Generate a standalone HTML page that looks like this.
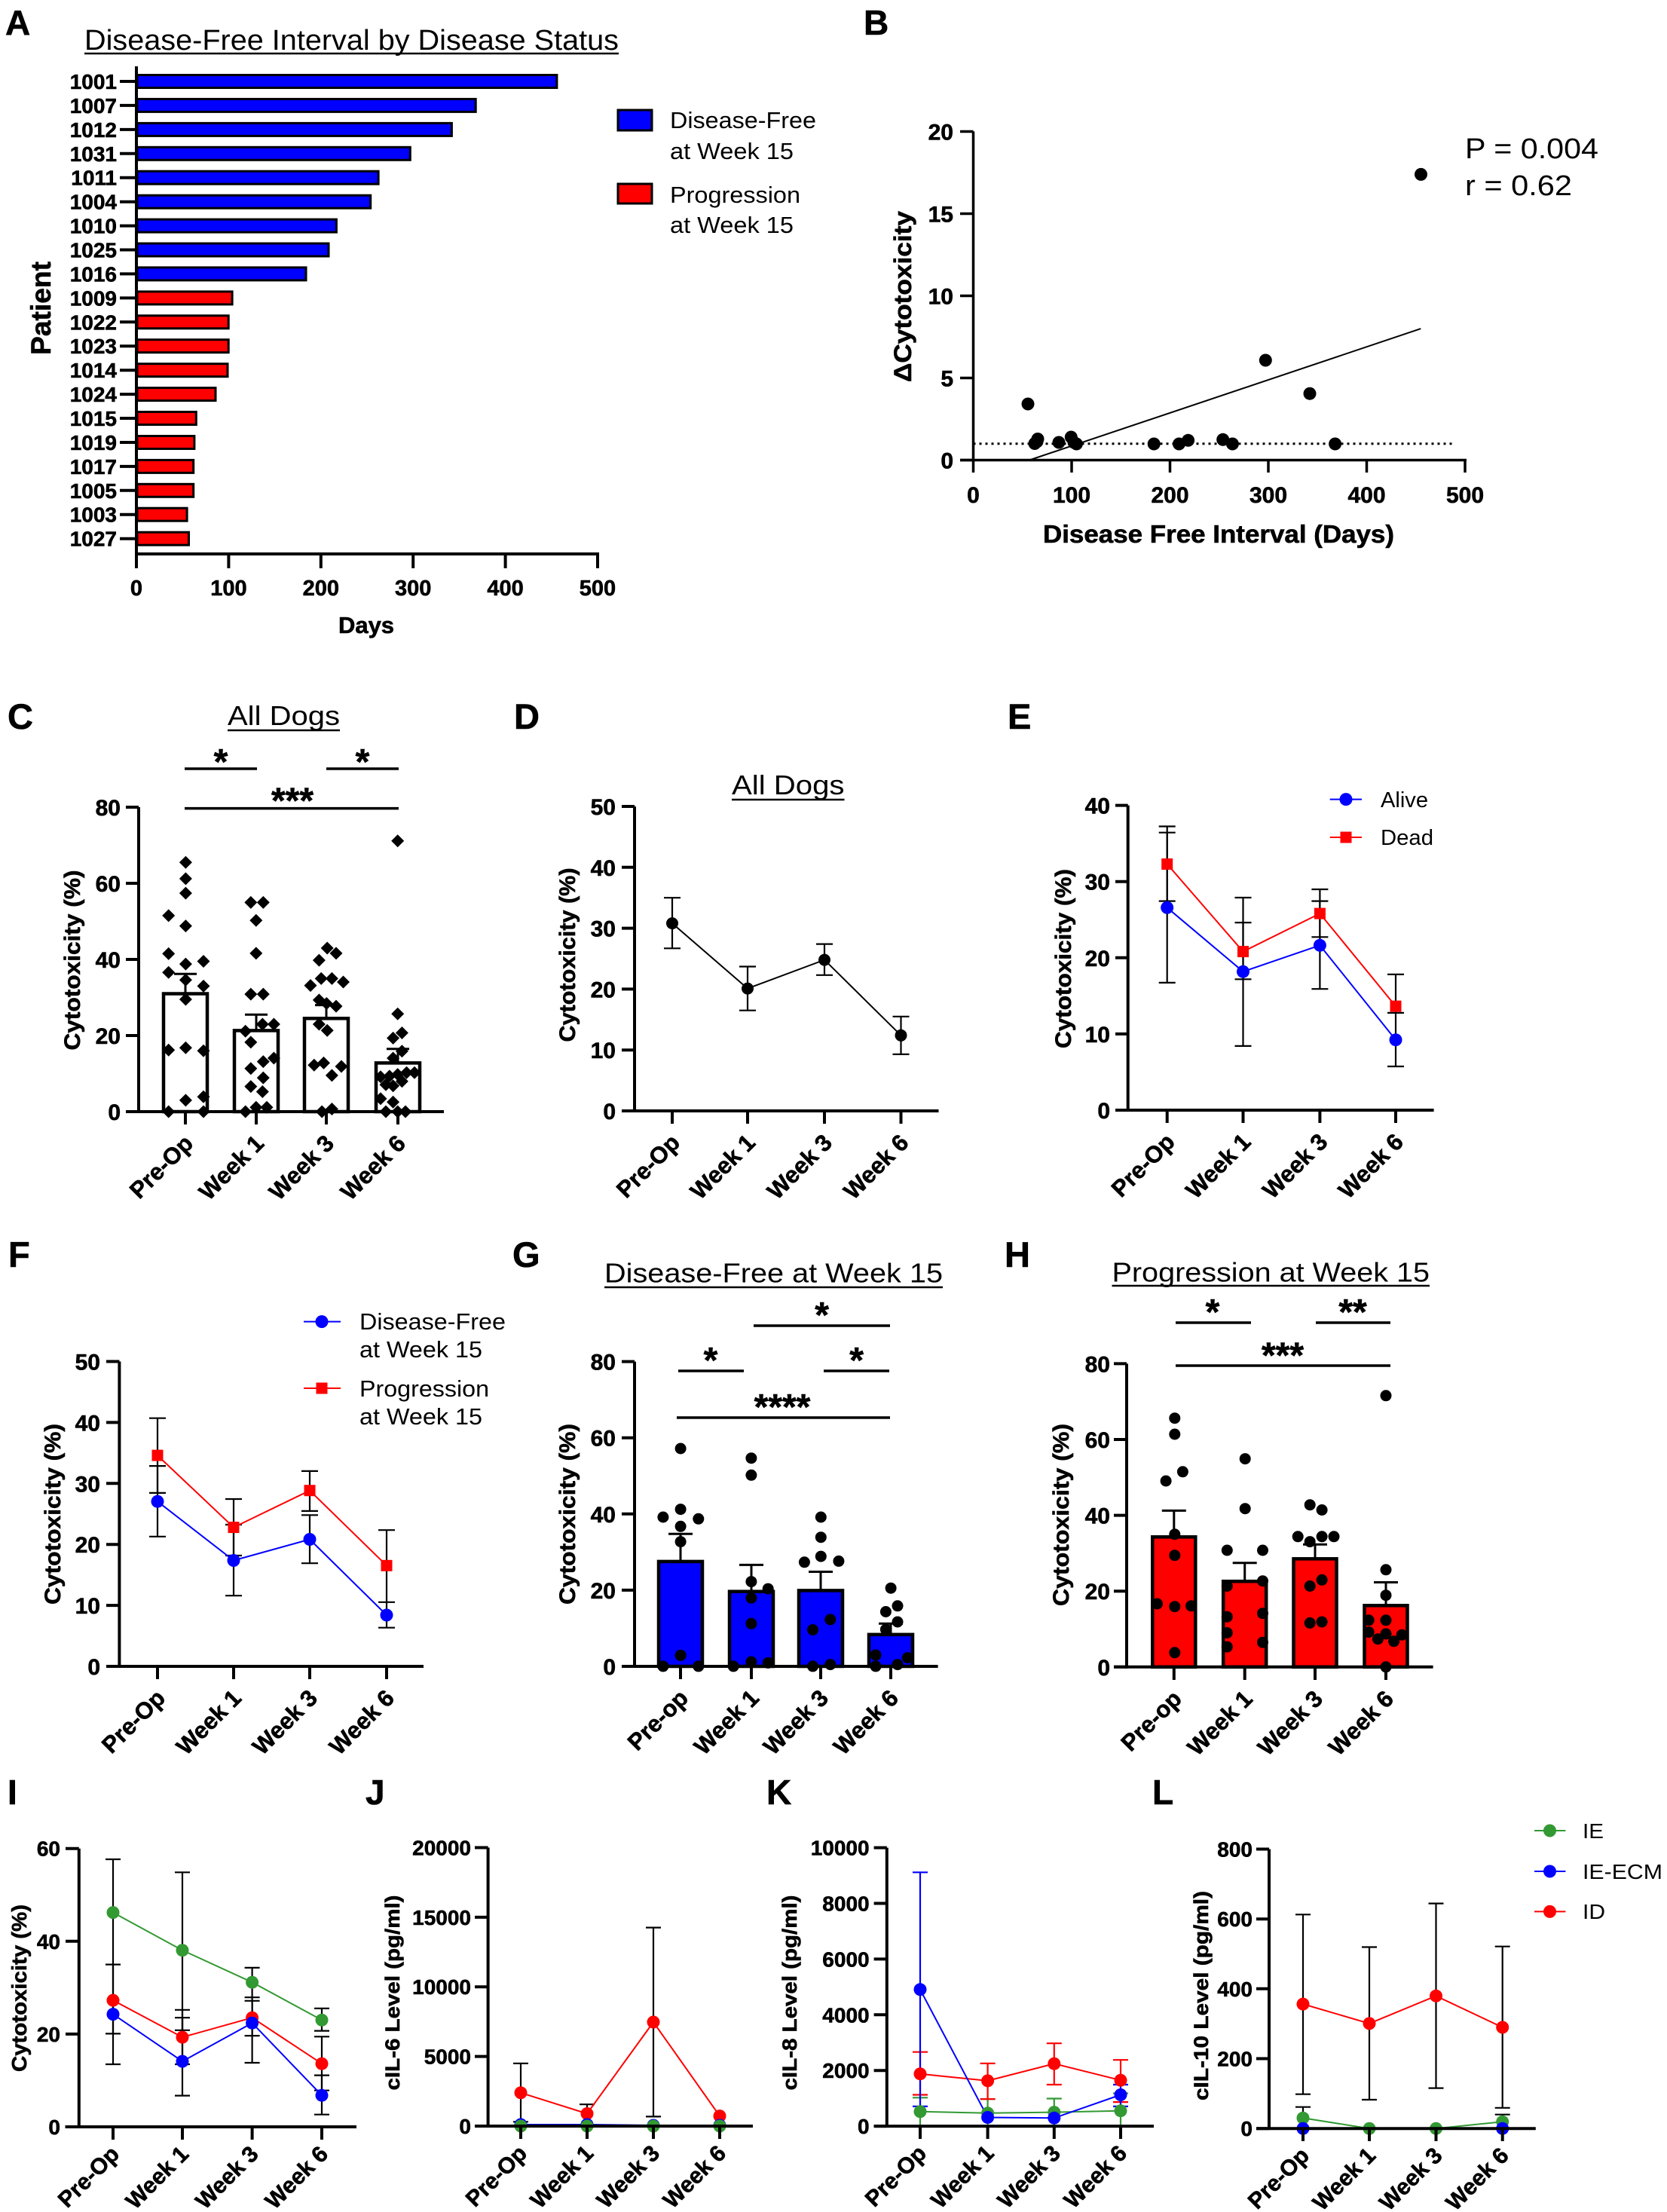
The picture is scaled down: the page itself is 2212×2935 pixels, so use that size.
<!DOCTYPE html>
<html><head><meta charset="utf-8"><style>
html,body{margin:0;padding:0;background:#fff}
svg{display:block}
text{font-family:"Liberation Sans",Arial,sans-serif;fill:#000}
.hv{stroke:#000;stroke-width:0.6}
.lt{font-size:47px;font-weight:bold;stroke:#000;stroke-width:0.6}
.yt{font-size:30px;font-weight:bold;text-anchor:end;stroke:#000;stroke-width:0.6}
.xt{font-size:30px;font-weight:bold;text-anchor:middle;stroke:#000;stroke-width:0.6}
.xr{font-size:31px;font-weight:bold;text-anchor:end;stroke:#000;stroke-width:0.6}
.yb{font-size:28px;font-weight:bold;text-anchor:end;stroke:#000;stroke-width:0.6}
.xb{font-size:30px;font-weight:bold;text-anchor:end;stroke:#000;stroke-width:0.6}
.st{font-size:48px;font-weight:bold;text-anchor:middle;stroke:#000;stroke-width:0.6}
.ax{stroke:#000;stroke-width:4;fill:none}
.eb{stroke:#000;stroke-width:2.2;fill:none}
.ln{stroke-width:2;fill:none}
</style></head><body>
<svg width="2212" height="2935" viewBox="0 0 2212 2935" xmlns="http://www.w3.org/2000/svg">
<defs><path id="dm" d="M0 -8.5L8.5 0L0 8.5L-8.5 0Z"/></defs>
<rect width="2212" height="2935" fill="#fff"/>

<!-- ================= PANEL A ================= -->
<text x="7" y="46" class="hv" style="font-size:46px;font-weight:bold">A</text>
<text x="112" y="66" style="font-size:38px" textLength="709" lengthAdjust="spacingAndGlyphs">Disease-Free Interval by Disease Status</text>
<line x1="112" y1="71" x2="821" y2="71" stroke="#000" stroke-width="2.5"/>
<g stroke="#000" stroke-width="3">
<rect x="182" y="99.5" width="556.9" height="17" fill="#0000ff"/>
<rect x="182" y="131.4" width="449.2" height="17" fill="#0000ff"/>
<rect x="182" y="163.4" width="417.4" height="17" fill="#0000ff"/>
<rect x="182" y="195.3" width="362.3" height="17" fill="#0000ff"/>
<rect x="182" y="227.2" width="320.1" height="17" fill="#0000ff"/>
<rect x="182" y="259.2" width="309.7" height="17" fill="#0000ff"/>
<rect x="182" y="291.1" width="264.4" height="17" fill="#0000ff"/>
<rect x="182" y="323" width="254" height="17" fill="#0000ff"/>
<rect x="182" y="354.9" width="224" height="17" fill="#0000ff"/>
<rect x="182" y="386.9" width="126.1" height="17" fill="#ff0000"/>
<rect x="182" y="418.8" width="121.2" height="17" fill="#ff0000"/>
<rect x="182" y="450.7" width="121.2" height="17" fill="#ff0000"/>
<rect x="182" y="482.7" width="120" height="17" fill="#ff0000"/>
<rect x="182" y="514.6" width="104" height="17" fill="#ff0000"/>
<rect x="182" y="546.5" width="78.3" height="17" fill="#ff0000"/>
<rect x="182" y="578.5" width="75.9" height="17" fill="#ff0000"/>
<rect x="182" y="610.4" width="74.7" height="17" fill="#ff0000"/>
<rect x="182" y="642.3" width="74.7" height="17" fill="#ff0000"/>
<rect x="182" y="674.2" width="66.1" height="17" fill="#ff0000"/>
<rect x="182" y="706.2" width="68.5" height="17" fill="#ff0000"/>
</g>
<g class="ax">
<line x1="181" y1="88" x2="181" y2="737"/>
<line x1="179" y1="735" x2="795" y2="735"/>
<path d="M181 735V754M303.4 735V754M425.8 735V754M548.2 735V754M670.6 735V754M793 735V754"/>
<path d="M159 108H181M159 139.9H181M159 171.9H181M159 203.8H181M159 235.7H181M159 267.7H181M159 299.6H181M159 331.5H181M159 363.4H181M159 395.4H181M159 427.3H181M159 459.2H181M159 491.2H181M159 523.1H181M159 555H181M159 587H181M159 618.9H181M159 650.8H181M159 682.7H181M159 714.7H181"/>
</g>
<g class="hv" style="font-size:28px;font-weight:bold;text-anchor:end">
<text x="155" y="118">1001</text><text x="155" y="149.9">1007</text><text x="155" y="181.9">1012</text><text x="155" y="213.8">1031</text><text x="155" y="245.7">1011</text><text x="155" y="277.7">1004</text><text x="155" y="309.6">1010</text><text x="155" y="341.5">1025</text><text x="155" y="373.4">1016</text><text x="155" y="405.4">1009</text><text x="155" y="437.3">1022</text><text x="155" y="469.2">1023</text><text x="155" y="501.2">1014</text><text x="155" y="533.1">1024</text><text x="155" y="565">1015</text><text x="155" y="597">1019</text><text x="155" y="628.9">1017</text><text x="155" y="660.8">1005</text><text x="155" y="692.7">1003</text><text x="155" y="724.7">1027</text>
</g>
<g class="hv" style="font-size:29px;font-weight:bold;text-anchor:middle">
<text x="181" y="790">0</text><text x="303.4" y="790">100</text><text x="425.8" y="790">200</text><text x="548.2" y="790">300</text><text x="670.6" y="790">400</text><text x="793" y="790">500</text>
</g>
<text x="486" y="840" class="hv" style="font-size:31px;font-weight:bold;text-anchor:middle">Days</text>
<text transform="translate(67,409) rotate(-90)" class="hv" style="font-size:37px;font-weight:bold;text-anchor:middle" textLength="124" lengthAdjust="spacingAndGlyphs">Patient</text>
<rect x="820" y="146" width="45" height="27" fill="#0000ff" stroke="#000" stroke-width="3"/>
<rect x="820" y="244" width="45" height="26" fill="#ff0000" stroke="#000" stroke-width="3"/>
<g style="font-size:31px">
<text x="889" y="170" textLength="194" lengthAdjust="spacingAndGlyphs">Disease-Free</text>
<text x="889" y="211" textLength="164" lengthAdjust="spacingAndGlyphs">at Week 15</text>
<text x="889" y="269" textLength="173" lengthAdjust="spacingAndGlyphs">Progression</text>
<text x="889" y="309" textLength="164" lengthAdjust="spacingAndGlyphs">at Week 15</text>
</g>

<!-- ================= PANEL B ================= -->
<text x="1146" y="46" class="hv" style="font-size:46px;font-weight:bold">B</text>
<g class="ax" style="stroke-width:3.5">
<line x1="1291.5" y1="174.4" x2="1291.5" y2="612.5"/>
<line x1="1274" y1="610.5" x2="1946" y2="610.5"/>
<path d="M1274 610.5H1291.5M1274 501.5H1291.5M1274 392.5H1291.5M1274 283.5H1291.5M1274 174.5H1291.5"/>
<path d="M1291.5 610.5V627M1422 610.5V627M1552.5 610.5V627M1683 610.5V627M1813.5 610.5V627M1944 610.5V627"/>
</g>
<g class="yt"><text x="1265" y="621.5">0</text><text x="1265" y="512.5">5</text><text x="1265" y="403.5">10</text><text x="1265" y="294.5">15</text><text x="1265" y="185.5">20</text></g>
<g class="xt"><text x="1291.5" y="667">0</text><text x="1422" y="667">100</text><text x="1552.5" y="667">200</text><text x="1683" y="667">300</text><text x="1813.5" y="667">400</text><text x="1944" y="667">500</text></g>
<text x="1617" y="720" class="hv" style="font-size:33px;font-weight:bold;text-anchor:middle" textLength="466" lengthAdjust="spacingAndGlyphs">Disease Free Interval (Days)</text>
<text transform="translate(1209,393.5) rotate(-90)" class="hv" style="font-size:32px;font-weight:bold;text-anchor:middle" textLength="227" lengthAdjust="spacingAndGlyphs">ΔCytotoxicity</text>
<path d="M1291.5 588.7H1930" stroke="#000" stroke-width="3" stroke-dasharray="3 5"/>
<path d="M1365.9 610.5L1885.3 436.1" stroke="#000" stroke-width="2"/>
<g fill="#000">
<circle cx="1885.5" cy="231.4" r="8.5"/><circle cx="1679.3" cy="478" r="8.5"/><circle cx="1738" cy="522.2" r="8.5"/><circle cx="1364" cy="536" r="8.5"/>
<circle cx="1373" cy="588.5" r="8.5"/><circle cx="1377" cy="582.5" r="8.5"/><circle cx="1376" cy="586" r="8.5"/><circle cx="1405" cy="587" r="8.5"/>
<circle cx="1421.3" cy="580" r="8.5"/><circle cx="1425" cy="587" r="8.5"/><circle cx="1428.4" cy="589" r="8.5"/><circle cx="1531.2" cy="589" r="8.5"/>
<circle cx="1564.5" cy="589" r="8.5"/><circle cx="1576.6" cy="584.3" r="8.5"/><circle cx="1622.7" cy="583.3" r="8.5"/><circle cx="1635.4" cy="589" r="8.5"/>
<circle cx="1771.6" cy="589" r="8.5"/>
</g>
<text x="1944" y="210" style="font-size:38px" textLength="177" lengthAdjust="spacingAndGlyphs">P = 0.004</text>
<text x="1944" y="259" style="font-size:38px" textLength="142" lengthAdjust="spacingAndGlyphs">r = 0.62</text>

<!-- ================= PANEL C ================= -->
<text x="10" y="967" class="lt">C</text>
<text x="302" y="962" style="font-size:36px" textLength="149" lengthAdjust="spacingAndGlyphs">All Dogs</text>
<line x1="302" y1="969" x2="451" y2="969" stroke="#000" stroke-width="2.5"/>
<g stroke="#000" stroke-width="3.5">
<path d="M245 1020H341M433 1020H529M245 1072.6H529"/>
</g>
<text x="293" y="1027" class="st">*</text><text x="481" y="1027" class="st">*</text><text x="388" y="1078.5" class="st">***</text>
<g stroke="#000" stroke-width="4.5" fill="#fff">
<rect x="217" y="1318.5" width="58" height="156.5"/>
<rect x="311" y="1367.4" width="58" height="107.6"/>
<rect x="404" y="1351.3" width="58" height="123.7"/>
<rect x="499" y="1410.4" width="58" height="64.6"/>
</g>
<path class="ax" style="stroke-width:3" d="M246 1318.5V1292.2M231 1292.2h30M340 1367.4V1346.2M325 1346.2h30M433 1351.3V1333.6M418 1333.6h30M528 1410.4V1391.7M513 1391.7h30"/>
<g fill="#000">
<use href="#dm" x="246.4" y="1144.2"/><use href="#dm" x="246.4" y="1165.9"/><use href="#dm" x="246.4" y="1185.1"/><use href="#dm" x="223.7" y="1214.9"/><use href="#dm" x="246.4" y="1228.6"/><use href="#dm" x="223.7" y="1265.4"/><use href="#dm" x="270" y="1275.5"/><use href="#dm" x="246.4" y="1279.1"/><use href="#dm" x="223.7" y="1290.2"/><use href="#dm" x="246.4" y="1300.3"/><use href="#dm" x="270" y="1308.4"/><use href="#dm" x="246.4" y="1326"/><use href="#dm" x="223.7" y="1393.2"/><use href="#dm" x="246.4" y="1390.2"/><use href="#dm" x="270" y="1394.2"/><use href="#dm" x="246.4" y="1459.9"/><use href="#dm" x="270" y="1455.3"/><use href="#dm" x="223.7" y="1475"/><use href="#dm" x="270" y="1475"/>
<use href="#dm" x="332.8" y="1197.4"/><use href="#dm" x="349.3" y="1197.4"/><use href="#dm" x="339.8" y="1221.3"/><use href="#dm" x="339.8" y="1264.9"/><use href="#dm" x="332.8" y="1319.1"/><use href="#dm" x="349.3" y="1319.1"/><use href="#dm" x="325.7" y="1368.2"/><use href="#dm" x="332.8" y="1382.9"/><use href="#dm" x="348.3" y="1359"/><use href="#dm" x="363.4" y="1359"/><use href="#dm" x="349.3" y="1408.6"/><use href="#dm" x="332.8" y="1417.8"/><use href="#dm" x="363.4" y="1404"/><use href="#dm" x="332.8" y="1441.6"/><use href="#dm" x="349.3" y="1430.1"/><use href="#dm" x="348.3" y="1448.5"/><use href="#dm" x="325.7" y="1475"/><use href="#dm" x="339.8" y="1469.2"/><use href="#dm" x="354" y="1469.2"/>
<use href="#dm" x="412" y="1307.6"/><use href="#dm" x="426.2" y="1298.4"/><use href="#dm" x="440.4" y="1298.4"/><use href="#dm" x="455.5" y="1303"/><use href="#dm" x="423.4" y="1274.1"/><use href="#dm" x="434.2" y="1258"/><use href="#dm" x="446" y="1264.9"/><use href="#dm" x="423.4" y="1326.9"/><use href="#dm" x="433.3" y="1331.5"/><use href="#dm" x="446" y="1335.1"/><use href="#dm" x="423.4" y="1359"/><use href="#dm" x="434.2" y="1367.3"/><use href="#dm" x="416.8" y="1413.2"/><use href="#dm" x="429.5" y="1410.4"/><use href="#dm" x="453" y="1415"/><use href="#dm" x="440.4" y="1426.9"/><use href="#dm" x="427.2" y="1475"/><use href="#dm" x="440.4" y="1471.5"/>
<use href="#dm" x="527.7" y="1115.7"/><use href="#dm" x="527.7" y="1345.2"/><use href="#dm" x="533.4" y="1370.5"/><use href="#dm" x="521.6" y="1377.4"/><use href="#dm" x="533.4" y="1394.8"/><use href="#dm" x="521.6" y="1404"/><use href="#dm" x="505" y="1428.8"/><use href="#dm" x="516.8" y="1427.9"/><use href="#dm" x="527.7" y="1425.6"/><use href="#dm" x="539.5" y="1423.3"/><use href="#dm" x="550" y="1423.3"/><use href="#dm" x="512" y="1439.3"/><use href="#dm" x="521.6" y="1440.7"/><use href="#dm" x="533.4" y="1434.7"/><use href="#dm" x="505" y="1457.7"/><use href="#dm" x="521.6" y="1462.3"/><use href="#dm" x="512" y="1475"/><use href="#dm" x="527.7" y="1475"/><use href="#dm" x="538" y="1475"/>
</g>
<g class="ax">
<line x1="184" y1="1071" x2="184" y2="1477"/>
<line x1="167" y1="1475" x2="589" y2="1475"/>
<path d="M167 1475H184M167 1374H184M167 1273H184M167 1172H184M167 1071H184"/>
<path d="M246 1475V1492M340 1475V1492M433 1475V1492M528 1475V1492"/>
</g>
<g class="yt"><text x="160" y="1486">0</text><text x="160" y="1385">20</text><text x="160" y="1284">40</text><text x="160" y="1183">60</text><text x="160" y="1082">80</text></g>
<text transform="translate(106,1274) rotate(-90)" class="hv" style="font-size:30px;font-weight:bold;text-anchor:middle" textLength="239" lengthAdjust="spacingAndGlyphs">Cytotoxicity (%)</text>
<g class="xr">
<text transform="translate(258,1519) rotate(-45)">Pre-Op</text>
<text transform="translate(352,1519) rotate(-45)">Week 1</text>
<text transform="translate(445,1519) rotate(-45)">Week 3</text>
<text transform="translate(540,1519) rotate(-45)">Week 6</text>
</g>

<!-- ================= PANEL D ================= -->
<text x="682" y="967" class="lt">D</text>
<text x="971" y="1054" style="font-size:36px" textLength="149.5" lengthAdjust="spacingAndGlyphs">All Dogs</text>
<line x1="971" y1="1061" x2="1120.5" y2="1061" stroke="#000" stroke-width="2.5"/>
<path class="eb" d="M892 1258.3V1191.2M881 1258.3h22M881 1191.2h22M992 1340.7V1282.5M981 1340.7h22M981 1282.5h22M1094 1293.8V1252.6M1083 1293.8h22M1083 1252.6h22M1195.5 1398.9V1348.8M1184.5 1398.9h22M1184.5 1348.8h22"/>
<polyline class="ln" stroke="#000" points="892,1225.1 992,1311.6 1094,1273.6 1195.5,1373.8"/>
<g fill="#000"><circle cx="892" cy="1225.1" r="8"/><circle cx="992" cy="1311.6" r="8"/><circle cx="1094" cy="1273.6" r="8"/><circle cx="1195.5" cy="1373.8" r="8"/></g>
<g class="ax">
<line x1="842" y1="1070" x2="842" y2="1476"/>
<line x1="825" y1="1474" x2="1245.5" y2="1474"/>
<path d="M825 1474H842M825 1393.2H842M825 1312.4H842M825 1231.6H842M825 1150.8H842M825 1070H842"/>
<path d="M892 1474V1491M992 1474V1491M1094 1474V1491M1195.5 1474V1491"/>
</g>
<g class="yt"><text x="817" y="1485">0</text><text x="817" y="1404.2">10</text><text x="817" y="1323.4">20</text><text x="817" y="1242.6">30</text><text x="817" y="1161.8">40</text><text x="817" y="1081">50</text></g>
<text transform="translate(763,1267) rotate(-90)" class="hv" style="font-size:30px;font-weight:bold;text-anchor:middle" textLength="231" lengthAdjust="spacingAndGlyphs">Cytotoxicity (%)</text>
<g class="xr">
<text transform="translate(904,1518) rotate(-45)">Pre-Op</text>
<text transform="translate(1004,1518) rotate(-45)">Week 1</text>
<text transform="translate(1106,1518) rotate(-45)">Week 3</text>
<text transform="translate(1207.5,1518) rotate(-45)">Week 6</text>
</g>

<!-- ================= PANEL E ================= -->
<text x="1337" y="967" class="lt">E</text>
<path class="eb" d="M1548.7 1303.9V1104.7M1537.7 1303.9h22M1537.7 1104.7h22M1649.5 1387.9V1224.1M1638.5 1387.9h22M1638.5 1224.1h22M1751.4 1312.2V1195.6M1740.4 1312.2h22M1740.4 1195.6h22M1852 1415V1343.9M1841 1415h22M1841 1343.9h22"/>
<path class="eb" d="M1548.7 1195.6V1096.5M1537.7 1195.6h22M1537.7 1096.5h22M1649.5 1299.3V1191M1638.5 1299.3h22M1638.5 1191h22M1751.4 1243.3V1180M1740.4 1243.3h22M1740.4 1180h22M1852 1343.9V1292.9M1841 1292.9h22"/>
<polyline class="ln" stroke="#0000ff" points="1548.7,1204.3 1649.5,1289.2 1751.4,1254.3 1852,1379.7"/>
<polyline class="ln" stroke="#ff0000" points="1548.7,1146.5 1649.5,1262.6 1751.4,1212.1 1852,1335.1"/>
<g fill="#0000ff"><circle cx="1548.7" cy="1204.3" r="8.5"/><circle cx="1649.5" cy="1289.2" r="8.5"/><circle cx="1751.4" cy="1254.3" r="8.5"/><circle cx="1852" cy="1379.7" r="8.5"/></g>
<g fill="#ff0000"><rect x="1541.2" y="1139" width="15" height="15"/><rect x="1642" y="1255.1" width="15" height="15"/><rect x="1743.9" y="1204.6" width="15" height="15"/><rect x="1844.5" y="1327.6" width="15" height="15"/></g>
<g class="ax">
<line x1="1496.7" y1="1068.6" x2="1496.7" y2="1475"/>
<line x1="1480" y1="1473" x2="1902.6" y2="1473"/>
<path d="M1480 1473H1496.7M1480 1371.9H1496.7M1480 1270.8H1496.7M1480 1169.7H1496.7M1480 1068.6H1496.7"/>
<path d="M1548.7 1473V1490M1649.5 1473V1490M1751.4 1473V1490M1852 1473V1490"/>
</g>
<g class="yt"><text x="1473" y="1484">0</text><text x="1473" y="1382.9">10</text><text x="1473" y="1281.8">20</text><text x="1473" y="1180.7">30</text><text x="1473" y="1079.6">40</text></g>
<text transform="translate(1421,1272) rotate(-90)" class="hv" style="font-size:30px;font-weight:bold;text-anchor:middle" textLength="238" lengthAdjust="spacingAndGlyphs">Cytotoxicity (%)</text>
<g class="xr">
<text transform="translate(1560.7,1517) rotate(-45)">Pre-Op</text>
<text transform="translate(1661.5,1517) rotate(-45)">Week 1</text>
<text transform="translate(1763.4,1517) rotate(-45)">Week 3</text>
<text transform="translate(1864,1517) rotate(-45)">Week 6</text>
</g>
<line x1="1764.7" y1="1060.6" x2="1807" y2="1060.6" stroke="#0000ff" stroke-width="2"/>
<circle cx="1786" cy="1060.6" r="8.5" fill="#0000ff"/>
<line x1="1764.7" y1="1111" x2="1807" y2="1111" stroke="#ff0000" stroke-width="2"/>
<rect x="1778.5" y="1103.5" width="15" height="15" fill="#ff0000"/>
<text x="1832" y="1071" style="font-size:29px" textLength="63" lengthAdjust="spacingAndGlyphs">Alive</text>
<text x="1832" y="1121" style="font-size:29px" textLength="70" lengthAdjust="spacingAndGlyphs">Dead</text>

<!-- ================= PANEL F ================= -->
<text x="11" y="1681" class="lt">F</text>
<path class="eb" d="M209 2038.8V1945.1M198 2038.8h22M198 1945.1h22M310 2117.2V2023M299 2117.2h22M299 2023h22M411 2074.2V2010.3M400 2074.2h22M400 2010.3h22M513 2159.7V2125.8M502 2159.7h22M502 2125.8h22"/>
<path class="eb" d="M209 1980.9V1881.7M198 1980.9h22M198 1881.7h22M310 2064V1989M299 2064h22M299 1989h22M411 2004.9V1951.9M400 2004.9h22M400 1951.9h22M513 2125.8V2030.2M502 2030.2h22"/>
<polyline class="ln" stroke="#0000ff" points="209,1992.2 310,2070.5 411,2042.5 513,2143"/>
<polyline class="ln" stroke="#ff0000" points="209,1931.1 310,2026.6 411,1977.7 513,2077.3"/>
<g fill="#0000ff"><circle cx="209" cy="1992.2" r="8.5"/><circle cx="310" cy="2070.5" r="8.5"/><circle cx="411" cy="2042.5" r="8.5"/><circle cx="513" cy="2143" r="8.5"/></g>
<g fill="#ff0000"><rect x="201.5" y="1923.6" width="15" height="15"/><rect x="302.5" y="2019.1" width="15" height="15"/><rect x="403.5" y="1970.2" width="15" height="15"/><rect x="505.5" y="2069.8" width="15" height="15"/></g>
<g class="ax">
<line x1="158.4" y1="1806.5" x2="158.4" y2="2213"/>
<line x1="141" y1="2211" x2="562" y2="2211"/>
<path d="M141 2211H158.4M141 2130.1H158.4M141 2049.2H158.4M141 1968.3H158.4M141 1887.4H158.4M141 1806.5H158.4"/>
<path d="M209 2211V2228M310 2211V2228M411 2211V2228M513 2211V2228"/>
</g>
<g class="yt"><text x="133" y="2222">0</text><text x="133" y="2141.1">10</text><text x="133" y="2060.2">20</text><text x="133" y="1979.3">30</text><text x="133" y="1898.4">40</text><text x="133" y="1817.5">50</text></g>
<text transform="translate(80,2009) rotate(-90)" class="hv" style="font-size:30px;font-weight:bold;text-anchor:middle" textLength="240" lengthAdjust="spacingAndGlyphs">Cytotoxicity (%)</text>
<g class="xr">
<text transform="translate(221,2255) rotate(-45)">Pre-Op</text>
<text transform="translate(322,2255) rotate(-45)">Week 1</text>
<text transform="translate(423,2255) rotate(-45)">Week 3</text>
<text transform="translate(525,2255) rotate(-45)">Week 6</text>
</g>
<line x1="403" y1="1753.6" x2="452" y2="1753.6" stroke="#0000ff" stroke-width="2"/>
<circle cx="427" cy="1753.6" r="8.5" fill="#0000ff"/>
<line x1="403" y1="1842" x2="452" y2="1842" stroke="#ff0000" stroke-width="2"/>
<rect x="419.5" y="1834.5" width="15" height="15" fill="#ff0000"/>
<g style="font-size:31px">
<text x="477" y="1764" textLength="194" lengthAdjust="spacingAndGlyphs">Disease-Free</text>
<text x="477" y="1801" textLength="163" lengthAdjust="spacingAndGlyphs">at Week 15</text>
<text x="477" y="1853" textLength="172" lengthAdjust="spacingAndGlyphs">Progression</text>
<text x="477" y="1890" textLength="163" lengthAdjust="spacingAndGlyphs">at Week 15</text>
</g>

<!-- ================= PANEL G ================= -->
<text x="680" y="1681" class="lt">G</text>
<text x="802" y="1701.5" style="font-size:36px" textLength="449" lengthAdjust="spacingAndGlyphs">Disease-Free at Week 15</text>
<line x1="802" y1="1708" x2="1251" y2="1708" stroke="#000" stroke-width="2.5"/>
<g stroke="#000" stroke-width="3.5"><path d="M1000 1759H1181M900 1819H987M1093 1819H1180M898 1881H1181"/></g>
<text x="1090.6" y="1761" class="st">*</text><text x="943" y="1821" class="st">*</text><text x="1136.6" y="1821" class="st">*</text><text x="1038" y="1883" class="st">****</text>
<g stroke="#000" stroke-width="4.5" fill="#0000ff">
<rect x="874" y="2071.9" width="58" height="139.1"/>
<rect x="968" y="2111.7" width="58" height="99.3"/>
<rect x="1060" y="2110.4" width="58" height="100.6"/>
<rect x="1153" y="2168.8" width="58" height="42.2"/>
</g>
<path class="ax" style="stroke-width:3" d="M903 2071.9V2035.2M887 2035.2h32M997 2111.7V2076.4M981 2076.4h32M1089 2110.4V2085.5M1073 2085.5h32M1182 2168.8V2154.3M1166 2154.3h32"/>
<g fill="#000">
<circle cx="903.1" cy="1922" r="7.5"/><circle cx="879.9" cy="2013" r="7.5"/><circle cx="903.1" cy="2002.6" r="7.5"/><circle cx="926.8" cy="2015.3" r="7.5"/><circle cx="903.1" cy="2025.3" r="7.5"/><circle cx="903.1" cy="2045.6" r="7.5"/><circle cx="903.1" cy="2196.4" r="7.5"/><circle cx="879.9" cy="2210.9" r="7.5"/><circle cx="926.8" cy="2210.9" r="7.5"/>
<circle cx="996.9" cy="1934.7" r="7.5"/><circle cx="996.9" cy="1957.3" r="7.5"/><circle cx="996.9" cy="2098.6" r="7.5"/><circle cx="1019.2" cy="2108.1" r="7.5"/><circle cx="996.9" cy="2120.3" r="7.5"/><circle cx="996.9" cy="2154.3" r="7.5"/><circle cx="973.2" cy="2210.9" r="7.5"/><circle cx="996.9" cy="2205" r="7.5"/><circle cx="1019.2" cy="2206.4" r="7.5"/>
<circle cx="1089.3" cy="2013" r="7.5"/><circle cx="1089.3" cy="2039.7" r="7.5"/><circle cx="1089.3" cy="2065.1" r="7.5"/><circle cx="1067.4" cy="2072.8" r="7.5"/><circle cx="1112.9" cy="2071.4" r="7.5"/><circle cx="1101.8" cy="2148.9" r="7.5"/><circle cx="1078.5" cy="2162.5" r="7.5"/><circle cx="1078.5" cy="2210.9" r="7.5"/><circle cx="1101.8" cy="2208.6" r="7.5"/>
<circle cx="1182.1" cy="2107.2" r="7.5"/><circle cx="1191" cy="2130.8" r="7.5"/><circle cx="1175.4" cy="2138.5" r="7.5"/><circle cx="1191" cy="2152" r="7.5"/><circle cx="1175.4" cy="2162" r="7.5"/><circle cx="1162" cy="2196" r="7.5"/><circle cx="1204.4" cy="2199.6" r="7.5"/><circle cx="1162" cy="2210.9" r="7.5"/><circle cx="1191" cy="2208.6" r="7.5"/>
</g>
<g class="ax">
<line x1="842" y1="1806.6" x2="842" y2="2213"/>
<line x1="825" y1="2211" x2="1244.6" y2="2211"/>
<path d="M825 2211H842M825 2109.9H842M825 2008.8H842M825 1907.7H842M825 1806.6H842"/>
<path d="M903 2211V2228M997 2211V2228M1089 2211V2228M1182 2211V2228"/>
</g>
<g class="yt"><text x="817" y="2222">0</text><text x="817" y="2120.9">20</text><text x="817" y="2019.8">40</text><text x="817" y="1918.7">60</text><text x="817" y="1817.6">80</text></g>
<text transform="translate(763,2009) rotate(-90)" class="hv" style="font-size:30px;font-weight:bold;text-anchor:middle" textLength="240" lengthAdjust="spacingAndGlyphs">Cytotoxicity (%)</text>
<g class="xr">
<text transform="translate(915,2255) rotate(-45)">Pre-op</text>
<text transform="translate(1009,2255) rotate(-45)">Week 1</text>
<text transform="translate(1101,2255) rotate(-45)">Week 3</text>
<text transform="translate(1194,2255) rotate(-45)">Week 6</text>
</g>

<!-- ================= PANEL H ================= -->
<text x="1333" y="1681" class="lt">H</text>
<text x="1475.5" y="1700.6" style="font-size:36px" textLength="421.5" lengthAdjust="spacingAndGlyphs">Progression at Week 15</text>
<line x1="1475.5" y1="1706" x2="1897" y2="1706" stroke="#000" stroke-width="2.5"/>
<g stroke="#000" stroke-width="3.5"><path d="M1560 1755H1660M1746 1755H1845M1560 1812H1845"/></g>
<text x="1609" y="1757" class="st">*</text><text x="1795" y="1757" class="st">**</text><text x="1702" y="1814.5" class="st">***</text>
<g stroke="#000" stroke-width="4.5" fill="#ff0000">
<rect x="1529.3" y="2039.3" width="57" height="172.5"/>
<rect x="1623.2" y="2098.2" width="57" height="113.6"/>
<rect x="1716.5" y="2068.3" width="57" height="143.5"/>
<rect x="1810.5" y="2130.3" width="57" height="81.5"/>
</g>
<path class="ax" style="stroke-width:3" d="M1557.8 2039.3V2004.4M1541.8 2004.4h32M1651.7 2098.2V2073.7M1635.7 2073.7h32M1745 2068.3V2049.3M1729 2049.3h32M1839 2130.3V2099.5M1823 2099.5h32"/>
<g fill="#000">
<circle cx="1558.8" cy="1881.7" r="7.5"/><circle cx="1558.8" cy="1903" r="7.5"/><circle cx="1569.4" cy="1952.8" r="7.5"/><circle cx="1547.1" cy="1965" r="7.5"/><circle cx="1558.8" cy="2035.7" r="7.5"/><circle cx="1558.8" cy="2063.7" r="7.5"/><circle cx="1535.5" cy="2128" r="7.5"/><circle cx="1558.8" cy="2131.7" r="7.5"/><circle cx="1580.6" cy="2130.8" r="7.5"/><circle cx="1558.8" cy="2192.8" r="7.5"/>
<circle cx="1652.2" cy="1935.6" r="7.5"/><circle cx="1652.2" cy="2001.7" r="7.5"/><circle cx="1628.3" cy="2057" r="7.5"/><circle cx="1675.5" cy="2057" r="7.5"/><circle cx="1675.5" cy="2097.7" r="7.5"/><circle cx="1628.3" cy="2104.5" r="7.5"/><circle cx="1628.3" cy="2145.2" r="7.5"/><circle cx="1675.5" cy="2140.7" r="7.5"/><circle cx="1628.3" cy="2166.5" r="7.5"/><circle cx="1675.5" cy="2179.2" r="7.5"/><circle cx="1628.3" cy="2185.1" r="7.5"/>
<circle cx="1738.2" cy="1996.7" r="7.5"/><circle cx="1754.1" cy="2003.5" r="7.5"/><circle cx="1722.2" cy="2038.8" r="7.5"/><circle cx="1738.2" cy="2045.6" r="7.5"/><circle cx="1754.1" cy="2038.8" r="7.5"/><circle cx="1770" cy="2038.8" r="7.5"/><circle cx="1754.1" cy="2096.3" r="7.5"/><circle cx="1738.2" cy="2104.5" r="7.5"/><circle cx="1738.2" cy="2153.4" r="7.5"/><circle cx="1754.1" cy="2152" r="7.5"/>
<circle cx="1839" cy="1851.8" r="7.5"/><circle cx="1839" cy="2082.8" r="7.5"/><circle cx="1839" cy="2116.7" r="7.5"/><circle cx="1816.2" cy="2149.8" r="7.5"/><circle cx="1839" cy="2149.8" r="7.5"/><circle cx="1816.2" cy="2165.6" r="7.5"/><circle cx="1828.4" cy="2174.7" r="7.5"/><circle cx="1839" cy="2167.9" r="7.5"/><circle cx="1860.2" cy="2169.2" r="7.5"/><circle cx="1849.6" cy="2177.8" r="7.5"/><circle cx="1839" cy="2211.8" r="7.5"/>
</g>
<g class="ax">
<line x1="1495" y1="1809.4" x2="1495" y2="2213.8"/>
<line x1="1478" y1="2211.8" x2="1901.6" y2="2211.8"/>
<path d="M1478 2211.8H1495M1478 2111.2H1495M1478 2010.6H1495M1478 1910H1495M1478 1809.4H1495"/>
<path d="M1557.8 2211.8V2229M1651.7 2211.8V2229M1745 2211.8V2229M1839 2211.8V2229"/>
</g>
<g class="yt"><text x="1473" y="2222.8">0</text><text x="1473" y="2122.2">20</text><text x="1473" y="2021.6">40</text><text x="1473" y="1921">60</text><text x="1473" y="1820.4">80</text></g>
<text transform="translate(1418,2010) rotate(-90)" class="hv" style="font-size:30px;font-weight:bold;text-anchor:middle" textLength="242" lengthAdjust="spacingAndGlyphs">Cytotoxicity (%)</text>
<g class="xr">
<text transform="translate(1569.8,2256) rotate(-45)">Pre-op</text>
<text transform="translate(1663.7,2256) rotate(-45)">Week 1</text>
<text transform="translate(1757,2256) rotate(-45)">Week 3</text>
<text transform="translate(1851,2256) rotate(-45)">Week 6</text>
</g>

<!-- ================= PANEL I ================= -->
<text x="10" y="2394" class="hv" style="font-size:46px;font-weight:bold">I</text>
<path class="eb" d="M150 2606.6V2467M140 2467h20M140 2606.6h20M242 2693.8V2484.3M232 2484.3h20M232 2693.8h20M334.6 2650.2V2610.9M324.6 2610.9h20M324.6 2650.2h20M427 2694.6V2664.9M417 2664.9h20M417 2694.6h20"/>
<path class="eb" d="M150 2698.4V2606.6M140 2698.4h20M242 2739V2666.8M232 2666.8h20M232 2739h20M334.6 2701.1V2654.8M324.6 2654.8h20M324.6 2701.1h20M427 2773.7V2702.3M417 2702.3h20M417 2773.7h20"/>
<path class="eb" d="M150 2739V2606.6M140 2739h20M242 2780.6V2677.2M232 2677.2h20M232 2780.6h20M334.6 2737V2650.2M324.6 2737h20M427 2805.7V2753.6M417 2753.6h20M417 2805.7h20"/>
<polyline class="ln" stroke="#339933" points="150,2537.6 242,2587.7 334.6,2630.2 427,2680.3"/>
<polyline class="ln" stroke="#ff0000" points="150,2654.1 242,2703.1 334.6,2677.2 427,2738.2"/>
<polyline class="ln" stroke="#0000ff" points="150,2672.6 242,2735.1 334.6,2684.2 427,2780.2"/>
<g fill="#339933"><circle cx="150" cy="2537.6" r="8.5"/><circle cx="242" cy="2587.7" r="8.5"/><circle cx="334.6" cy="2630.2" r="8.5"/><circle cx="427" cy="2680.3" r="8.5"/></g>
<g fill="#ff0000"><circle cx="150" cy="2654.1" r="8.5"/><circle cx="242" cy="2703.1" r="8.5"/><circle cx="334.6" cy="2677.2" r="8.5"/><circle cx="427" cy="2738.2" r="8.5"/></g>
<g fill="#0000ff"><circle cx="150" cy="2672.6" r="8.5"/><circle cx="242" cy="2735.1" r="8.5"/><circle cx="334.6" cy="2684.2" r="8.5"/><circle cx="427" cy="2780.2" r="8.5"/></g>
<g class="ax">
<line x1="104.8" y1="2452.7" x2="104.8" y2="2824"/>
<line x1="86.5" y1="2822" x2="473" y2="2822"/>
<path d="M87 2822H104.8M87 2698.9H104.8M87 2575.8H104.8M87 2452.7H104.8"/>
<path d="M150 2822V2839M242 2822V2839M334.6 2822V2839M427 2822V2839"/>
</g>
<g class="yb"><text x="80" y="2832">0</text><text x="80" y="2708.9">20</text><text x="80" y="2585.8">40</text><text x="80" y="2462.7">60</text></g>
<text transform="translate(35,2638) rotate(-90)" class="hv" style="font-size:28px;font-weight:bold;text-anchor:middle" textLength="222" lengthAdjust="spacingAndGlyphs">Cytotoxicity (%)</text>
<g class="xb">
<text transform="translate(160,2860) rotate(-45)">Pre-Op</text>
<text transform="translate(252,2860) rotate(-45)">Week 1</text>
<text transform="translate(344.6,2860) rotate(-45)">Week 3</text>
<text transform="translate(437,2860) rotate(-45)">Week 6</text>
</g>

<!-- ================= PANEL J ================= -->
<text x="485" y="2394" class="hv" style="font-size:46px;font-weight:bold">J</text>
<path class="eb" d="M691 2815V2737.8M681 2737.8h20M779 2814V2792.2M769 2792.2h20M867 2808.4V2557.6M857 2557.6h20M857 2808.4h20M691 2819V2815.3M681 2815.3h20"/>
<polyline class="ln" stroke="#ff0000" points="691,2776.8 779,2804.5 867,2683 955,2807.6"/>
<polyline class="ln" stroke="#0000ff" points="691,2819 779,2819 867,2820 955,2820"/>
<polyline class="ln" stroke="#339933" points="691,2821 779,2821 867,2821 955,2821"/>
<g fill="#ff0000"><circle cx="691" cy="2776.8" r="8.5"/><circle cx="779" cy="2804.5" r="8.5"/><circle cx="867" cy="2683" r="8.5"/><circle cx="955" cy="2807.6" r="8.5"/></g>
<g fill="#0000ff"><circle cx="691" cy="2819" r="8.5"/><circle cx="779" cy="2819" r="8.5"/><circle cx="867" cy="2820" r="8.5"/><circle cx="955" cy="2820" r="8.5"/></g>
<g fill="#339933"><circle cx="691" cy="2821" r="8.5"/><circle cx="779" cy="2821" r="8.5"/><circle cx="867" cy="2821" r="8.5"/><circle cx="955" cy="2821" r="8.5"/></g>
<g class="ax">
<line x1="647.6" y1="2451.5" x2="647.6" y2="2823"/>
<line x1="630" y1="2821" x2="999" y2="2821"/>
<path d="M630 2821H647.6M630 2728.6H647.6M630 2636.2H647.6M630 2543.9H647.6M630 2451.5H647.6"/>
<path d="M691 2821V2838M779 2821V2838M867 2821V2838M955 2821V2838"/>
</g>
<g class="yb"><text x="625" y="2831">0</text><text x="625" y="2738.6">5000</text><text x="625" y="2646.2">10000</text><text x="625" y="2553.9">15000</text><text x="625" y="2461.5">20000</text></g>
<text transform="translate(530,2644) rotate(-90)" class="hv" style="font-size:27px;font-weight:bold;text-anchor:middle" textLength="259" lengthAdjust="spacingAndGlyphs">cIL-6 Level (pg/ml)</text>
<g class="xb">
<text transform="translate(701,2859) rotate(-45)">Pre-Op</text>
<text transform="translate(789,2859) rotate(-45)">Week 1</text>
<text transform="translate(877,2859) rotate(-45)">Week 3</text>
<text transform="translate(965,2859) rotate(-45)">Week 6</text>
</g>

<!-- ================= PANEL K ================= -->
<text x="1017" y="2394" class="hv" style="font-size:46px;font-weight:bold">K</text>
<path class="eb" style="stroke:#339933" d="M1221 2821V2783.3M1211 2783.3h20M1310.6 2821V2785.2M1300.6 2785.2h20M1398.8 2821V2784.5M1388.8 2784.5h20M1487 2821V2777.5M1477 2777.5h20"/>
<path class="eb" style="stroke:#ff0000" d="M1221 2779.5V2722.7M1211 2722.7h20M1211 2779.5h20M1310.6 2785.2V2737.8M1300.6 2737.8h20M1300.6 2785.2h20M1398.8 2766V2711.2M1388.8 2711.2h20M1388.8 2766h20M1487 2789.1V2733.2M1477 2733.2h20M1477 2789.1h20"/>
<path class="eb" style="stroke:#0000ff" d="M1221 2794.9V2484.3M1211 2484.3h20M1211 2794.9h20M1487 2794.9V2766M1477 2766h20M1477 2794.9h20"/>
<polyline class="ln" stroke="#339933" points="1221,2801.8 1310.6,2803.8 1398.8,2802.6 1487,2800.7"/>
<polyline class="ln" stroke="#ff0000" points="1221,2751.7 1310.6,2760.9 1398.8,2738.2 1487,2760.2"/>
<polyline class="ln" stroke="#0000ff" points="1221,2639.8 1310.6,2809.5 1398.8,2810.3 1487,2779.5"/>
<g fill="#339933"><circle cx="1221" cy="2801.8" r="8.5"/><circle cx="1310.6" cy="2803.8" r="8.5"/><circle cx="1398.8" cy="2802.6" r="8.5"/><circle cx="1487" cy="2800.7" r="8.5"/></g>
<g fill="#ff0000"><circle cx="1221" cy="2751.7" r="8.5"/><circle cx="1310.6" cy="2760.9" r="8.5"/><circle cx="1398.8" cy="2738.2" r="8.5"/><circle cx="1487" cy="2760.2" r="8.5"/></g>
<g fill="#0000ff"><circle cx="1221" cy="2639.8" r="8.5"/><circle cx="1310.6" cy="2809.5" r="8.5"/><circle cx="1398.8" cy="2810.3" r="8.5"/><circle cx="1487" cy="2779.5" r="8.5"/></g>
<g class="ax">
<line x1="1176.8" y1="2451.6" x2="1176.8" y2="2823"/>
<line x1="1159.6" y1="2821.1" x2="1531" y2="2821.1"/>
<path d="M1159.6 2821.1H1176.8M1159.6 2747.2H1176.8M1159.6 2673.3H1176.8M1159.6 2599.4H1176.8M1159.6 2525.5H1176.8M1159.6 2451.6H1176.8"/>
<path d="M1221 2821V2838M1310.6 2821V2838M1398.8 2821V2838M1487 2821V2838"/>
</g>
<g class="yb"><text x="1153.6" y="2831.1">0</text><text x="1153.6" y="2757.2">2000</text><text x="1153.6" y="2683.3">4000</text><text x="1153.6" y="2609.4">6000</text><text x="1153.6" y="2535.5">8000</text><text x="1153.6" y="2461.6">10000</text></g>
<text transform="translate(1057,2644) rotate(-90)" class="hv" style="font-size:27px;font-weight:bold;text-anchor:middle" textLength="259" lengthAdjust="spacingAndGlyphs">cIL-8 Level (pg/ml)</text>
<g class="xb">
<text transform="translate(1231,2859) rotate(-45)">Pre-Op</text>
<text transform="translate(1320.6,2859) rotate(-45)">Week 1</text>
<text transform="translate(1408.8,2859) rotate(-45)">Week 3</text>
<text transform="translate(1497,2859) rotate(-45)">Week 6</text>
</g>

<!-- ================= PANEL L ================= -->
<text x="1529" y="2394" class="hv" style="font-size:46px;font-weight:bold">L</text>
<path class="eb" d="M1729 2778.7V2540.3M1719 2540.3h20M1719 2778.7h20M1817 2786V2583.5M1807 2583.5h20M1807 2786h20M1905.5 2770.6V2525.6M1895.5 2525.6h20M1895.5 2770.6h20M1993.7 2796.8V2582.7M1983.7 2582.7h20M1983.7 2796.8h20M1729 2824V2795.7M1719 2795.7h20M1993.7 2824V2805.7M1983.7 2805.7h20"/>
<polyline class="ln" stroke="#ff0000" points="1729,2659.1 1817,2684.9 1905.5,2648.3 1993.7,2690"/>
<polyline class="ln" stroke="#339933" points="1729,2810.3 1817,2824.2 1905.5,2824.2 1993.7,2815.3"/>
<polyline class="ln" stroke="#0000ff" points="1729,2824.2 1817,2824.2 1905.5,2824.2 1993.7,2824.2"/>
<g fill="#ff0000"><circle cx="1729" cy="2659.1" r="8.5"/><circle cx="1817" cy="2684.9" r="8.5"/><circle cx="1905.5" cy="2648.3" r="8.5"/><circle cx="1993.7" cy="2690" r="8.5"/></g>
<g fill="#339933"><circle cx="1729" cy="2810.3" r="8.5"/><circle cx="1817" cy="2824.2" r="8.5"/><circle cx="1905.5" cy="2824.2" r="8.5"/><circle cx="1993.7" cy="2815.3" r="8.5"/></g>
<g fill="#0000ff"><circle cx="1729" cy="2824.2" r="8.5"/><circle cx="1993.7" cy="2824.2" r="8.5"/></g>
<g class="ax">
<line x1="1684" y1="2453.5" x2="1684" y2="2826"/>
<line x1="1667" y1="2824.2" x2="2037.8" y2="2824.2"/>
<path d="M1667 2824.2H1684M1667 2731.5H1684M1667 2638.8H1684M1667 2546.2H1684M1667 2453.5H1684"/>
<path d="M1729 2824V2841M1817 2824V2841M1905.5 2824V2841M1993.7 2824V2841"/>
</g>
<g class="yb"><text x="1662" y="2834.2">0</text><text x="1662" y="2741.5">200</text><text x="1662" y="2648.8">400</text><text x="1662" y="2556.2">600</text><text x="1662" y="2463.5">800</text></g>
<text transform="translate(1603,2648) rotate(-90)" class="hv" style="font-size:27px;font-weight:bold;text-anchor:middle" textLength="278" lengthAdjust="spacingAndGlyphs">cIL-10 Level (pg/ml)</text>
<g class="xb">
<text transform="translate(1739,2862) rotate(-45)">Pre-Op</text>
<text transform="translate(1827,2862) rotate(-45)">Week 1</text>
<text transform="translate(1915.5,2862) rotate(-45)">Week 3</text>
<text transform="translate(2003.7,2862) rotate(-45)">Week 6</text>
</g>
<line x1="2036" y1="2429" x2="2077.4" y2="2429" stroke="#339933" stroke-width="2"/>
<circle cx="2056.5" cy="2429" r="8.5" fill="#339933"/>
<line x1="2036" y1="2483" x2="2077.4" y2="2483" stroke="#0000ff" stroke-width="2"/>
<circle cx="2056.5" cy="2483" r="8.5" fill="#0000ff"/>
<line x1="2036" y1="2536.4" x2="2077.4" y2="2536.4" stroke="#ff0000" stroke-width="2"/>
<circle cx="2056.5" cy="2536.4" r="8.5" fill="#ff0000"/>
<g style="font-size:28px">
<text x="2100" y="2439" textLength="28" lengthAdjust="spacingAndGlyphs">IE</text>
<text x="2100" y="2493" textLength="106" lengthAdjust="spacingAndGlyphs">IE-ECM</text>
<text x="2100" y="2546" textLength="30" lengthAdjust="spacingAndGlyphs">ID</text>
</g>
</svg>
</body></html>
